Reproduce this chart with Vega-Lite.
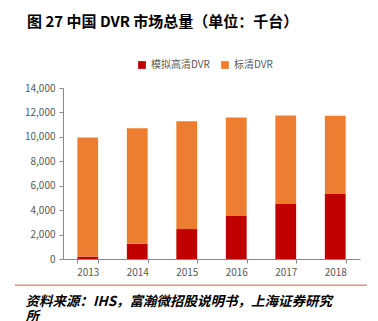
{
  "$schema": "https://vega.github.io/schema/vega-lite/v6.json",
  "autosize": "none",
  "width": 297,
  "height": 171,
  "padding": {"left": 63, "top": 88, "right": 18, "bottom": 62},
  "background": "white",
  "config": {"view": {"stroke": null}, "font": "Noto Sans CJK SC"},
  "title": {
    "text": "图 27 中国 DVR 市场总量（单位：千台）",
    "anchor": "start",
    "frame": "group",
    "dx": -36,
    "offset": 30,
    "fontSize": 15,
    "fontWeight": "bold",
    "color": "#000000",
    "font": "Noto Sans CJK SC"
  },
  "resolve": {"axis": {"y": "independent"}},
  "layer": [
    {
      "data": {
        "values": [
          {"year": "2013", "series": "模拟高清DVR", "value": 200},
          {"year": "2014", "series": "模拟高清DVR", "value": 1250},
          {"year": "2015", "series": "模拟高清DVR", "value": 2450},
          {"year": "2016", "series": "模拟高清DVR", "value": 3530},
          {"year": "2017", "series": "模拟高清DVR", "value": 4510},
          {"year": "2018", "series": "模拟高清DVR", "value": 5330},
          {"year": "2013", "series": "标清DVR", "value": 9750},
          {"year": "2014", "series": "标清DVR", "value": 9450},
          {"year": "2015", "series": "标清DVR", "value": 8830},
          {"year": "2016", "series": "标清DVR", "value": 8060},
          {"year": "2017", "series": "标清DVR", "value": 7240},
          {"year": "2018", "series": "标清DVR", "value": 6390}
        ]
      },
      "mark": {"type": "bar"},
      "encoding": {
        "x": {
          "field": "year",
          "type": "nominal",
          "scale": {"paddingInner": 0.58, "paddingOuter": 0.29},
          "axis": {
            "labelAngle": 0,
            "labelFontSize": 10,
            "labelColor": "#595959",
            "labelPadding": 4,
            "tickBand": "extent",
            "tickSize": 4,
            "tickColor": "#888888",
            "domainColor": "#888888",
            "title": ["资料来源：IHS，富瀚微招股说明书，上海证券研究", "所"],
            "titleX": -38,
            "titleY": 46,
            "titleAlign": "left",
            "titleAnchor": null,
            "titleBaseline": "alphabetic",
            "titleFontSize": 13.5,
            "titleFontWeight": "bold",
            "titleFontStyle": "italic",
            "titleColor": "#000000",
            "titleLineHeight": 15
          }
        },
        "y": {
          "field": "value",
          "type": "quantitative",
          "stack": "zero",
          "scale": {"domain": [0, 14000]},
          "axis": {
            "values": [0, 2000, 4000, 6000, 8000, 10000, 12000, 14000],
            "labelExpr": "format(datum.value, ',')",
            "grid": false,
            "title": null,
            "labelFontSize": 10,
            "labelColor": "#595959",
            "labelPadding": 4,
            "tickSize": 4,
            "tickColor": "#888888",
            "domainColor": "#888888"
          }
        },
        "color": {
          "field": "series",
          "type": "nominal",
          "scale": {"domain": ["模拟高清DVR", "标清DVR"], "range": ["#C00000", "#ED7D31"]},
          "legend": {
            "title": null,
            "orient": "none",
            "direction": "horizontal",
            "legendX": 74,
            "legendY": -28,
            "symbolType": "square",
            "symbolSize": 60,
            "symbolStrokeWidth": 0,
            "labelFontSize": 10,
            "labelColor": "#595959",
            "columnPadding": 10,
            "symbolOffset": 0
          }
        },
        "order": {"field": "series", "sort": "descending"}
      }
    },
    {
      "data": {"values": [{"sep": -2155}]},
      "mark": {"type": "rule", "color": "#F08C8C", "strokeWidth": 1.5},
      "encoding": {
        "y": {"field": "sep", "type": "quantitative", "axis": null},
        "x": {"value": -48},
        "x2": {"value": 304}
      }
    }
  ]
}
